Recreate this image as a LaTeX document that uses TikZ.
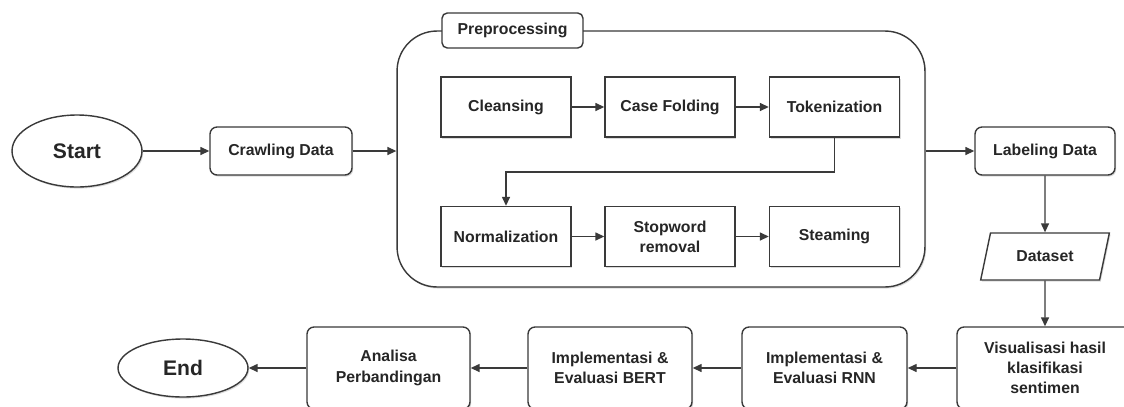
\documentclass[tikz,border=0pt]{standalone}
\usepackage{fontspec}
\setmainfont{Liberation Sans}
\usetikzlibrary{arrows.meta,calc,positioning,shapes.geometric,shadows}
\definecolor{FlowInk}{HTML}{262626}
\definecolor{FlowLine}{HTML}{3A3A3A}
\definecolor{FlowShade}{HTML}{9A9A9A}
\tikzset{
  every node/.style={font=\bfseries\fontsize{9}{11.5}\selectfont, text=FlowInk},
  softshadow/.style={drop shadow={shadow xshift=0.7pt, shadow yshift=-0.9pt, opacity=0.35, fill=FlowShade}},
  terminal/.style={ellipse, draw=FlowLine, line width=0.8pt, fill=white, inner sep=0pt, softshadow, font=\bfseries\fontsize{12}{14}\selectfont},
  process/.style={rectangle, rounded corners=4pt, draw=FlowLine, line width=0.8pt, fill=white, align=center, inner sep=0pt, softshadow},
  substep/.style={rectangle, draw=FlowLine, line width=0.8pt, fill=white, align=center, inner sep=0pt, minimum width=2.6cm, minimum height=1.2cm, softshadow},
  datastore/.style={trapezium, trapezium left angle=65, trapezium right angle=115, trapezium stretches=true, draw=FlowLine, line width=0.8pt, fill=white, inner sep=0pt, softshadow},
  group/.style={rectangle, rounded corners=0.8cm, draw=FlowLine, line width=0.8pt, fill=white, softshadow},
  grouptab/.style={rectangle, rounded corners=3pt, draw=FlowLine, line width=0.8pt, fill=white, inner sep=0pt},
  flow/.style={-{Triangle[length=1.8mm,width=1.6mm]}, draw=FlowLine, line width=0.8pt},
}

\begin{document}
\begin{tikzpicture}[x=0.02cm, y=-0.02cm]
  \clip (0,0) rectangle (1124,406);
  \fill[white] (0,0) rectangle (1124,406);
  % Top row, pixel grid of the sketch (y grows downward)
  \node[terminal, minimum width=2.6cm, minimum height=1.44cm] (start) at (77,151) {Start};
  \node[process, minimum width=2.84cm, minimum height=0.96cm] (crawl) at (281,151) {Crawling Data};
  % Preprocessing group
  \node[group, minimum width=10.56cm, minimum height=5.12cm] (prep) at (661,159) {};
  \node[grouptab, minimum width=2.82cm, minimum height=0.7cm] (prepTab) at (512.5,30.5) {Preprocessing};
  \node[substep] (clean) at (506,107) {Cleansing};
  \node[substep] (fold) at (670,107) {Case Folding};
  \node[substep] (token) at (834.5,107) {Tokenization};
  \node[substep] (norm) at (506,236.5) {Normalization};
  \node[substep] (stop) at (670,236.5) {Stopword\\removal};
  \node[substep] (stem) at (834.5,236.5) {Steaming};
  \coordinate (bend) at (0,172);
  % Right column
  \node[process, minimum width=2.8cm, minimum height=0.96cm] (label) at (1045,151) {Labeling Data};
  \node[datastore, minimum width=2.58cm, minimum height=0.94cm] (data) at (1045,256.5) {Dataset};
  \node[process, minimum width=3.52cm, minimum height=1.64cm] (vis) at (1045,368) {Visualisasi hasil\\klasifikasi\\sentimen};
  % Bottom row
  \node[process, minimum width=3.3cm, minimum height=1.64cm] (rnn) at (824.5,368) {Implementasi \&\\Evaluasi RNN};
  \node[process, minimum width=3.28cm, minimum height=1.64cm] (bert) at (610,368) {Implementasi \&\\Evaluasi BERT};
  \node[process, minimum width=3.26cm, minimum height=1.64cm] (compare) at (388.5,368) {Analisa\\Perbandingan};
  \node[terminal, minimum width=2.6cm, minimum height=1.16cm] (finish) at (183,368) {End};
  % Connectors
  \draw[flow] (start) -- (crawl);
  \draw[flow] (crawl) -- (crawl -| prep.west);
  \draw[flow] (clean) -- (fold);
  \draw[flow] (fold) -- (token);
  \draw[flow] (token.south) -- (token.south |- bend) -| (norm.north);
  \draw[flow] (norm) -- (stop);
  \draw[flow] (stop) -- (stem);
  \draw[flow] (label -| prep.east) -- (label);
  \draw[flow] (label) -- (data);
  \draw[flow] (data) -- (vis);
  \draw[flow] (vis) -- (rnn);
  \draw[flow] (rnn) -- (bert);
  \draw[flow] (bert) -- (compare);
  \draw[flow] (compare) -- (finish);
\end{tikzpicture}
\end{document}
